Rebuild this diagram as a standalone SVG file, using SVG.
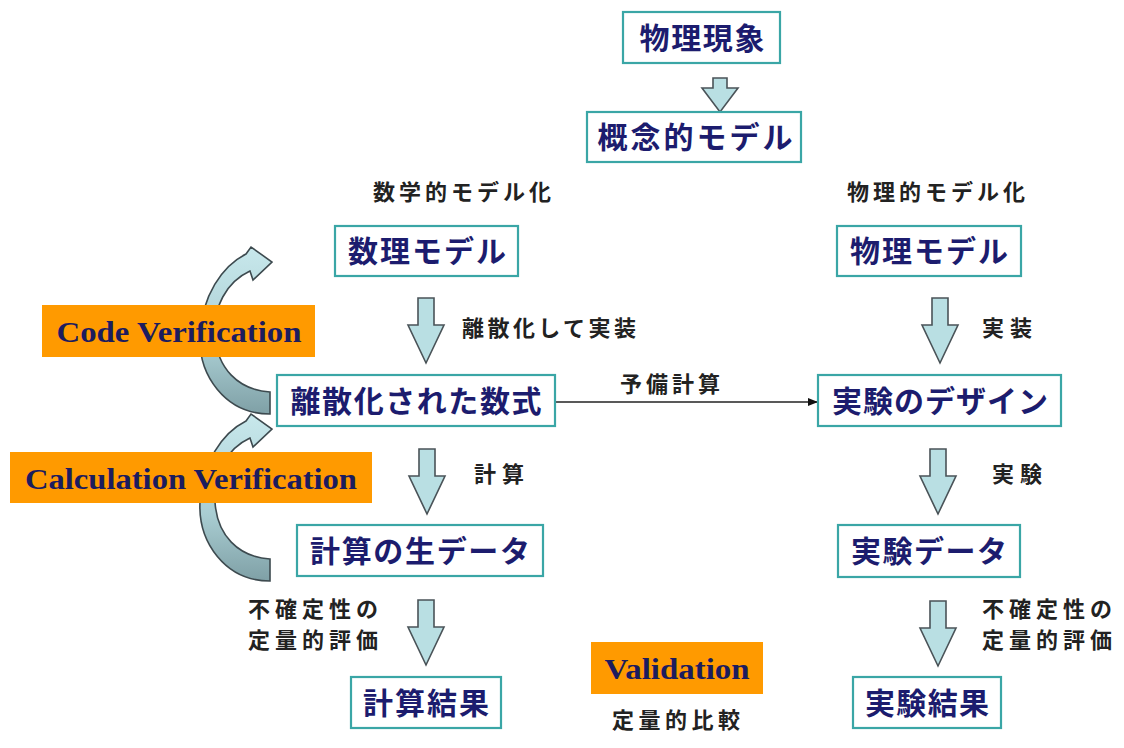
<svg xmlns="http://www.w3.org/2000/svg" width="1124" height="748" viewBox="0 0 1124 748">
<style>
.box{fill:#fff;stroke:#3aa6a6;stroke-width:2.2}
.bt{font-family:"Noto Sans CJK JP",sans-serif;font-weight:bold;font-size:30px;fill:#1c1c6e;text-anchor:middle}
.lb{font-family:"Noto Sans CJK JP",sans-serif;font-weight:bold;font-size:22px;fill:#222;text-anchor:middle}
.or{fill:#ff9a00}
.ot{font-family:"Liberation Serif",serif;font-weight:bold;font-size:30px;fill:#1c1c5e;text-anchor:middle}
.ba{fill:#b9dfe3;stroke:#4a5358;stroke-width:1.6;stroke-linejoin:miter}
.ca{fill:url(#cg);stroke:#3d4a4f;stroke-width:1.6}
</style>
<defs>
<path id="darr" d="M -8 0 H 8 V 27 H 18 L 0 65 L -18 27 H -8 Z"/>
<linearGradient id="cg" x1="0" y1="0" x2="0" y2="1">
<stop offset="0" stop-color="#c8e8ec"/>
<stop offset="0.6" stop-color="#a9cdd2"/>
<stop offset="1" stop-color="#7fa0a6"/>
</linearGradient>
<marker id="ah" markerWidth="10" markerHeight="8" refX="9" refY="4" orient="auto" markerUnits="userSpaceOnUse">
<path d="M0 0 L10 4 L0 8 Z" fill="#111"/>
</marker>
<path id="carr" d="M 270 392 L 270 414 C 225 414 198 375 200 335 C 202 296 222 266 246 254 L 251 247 L 272 262 L 253 280 L 250 271 C 226 282 213 308 215 335 C 217 368 238 390 270 392 Z"/>
</defs>
<rect width="1124" height="748" fill="#fff"/>

<g id="connectors">
<use href="#carr" class="ca"/>
<use href="#carr" class="ca" transform="translate(0,167)"/>
<path class="ba" d="M 713 78 H 727 V 88 H 738 L 720 112 L 702 88 H 713 Z"/>
<use href="#darr" class="ba" transform="translate(426,298)"/>
<use href="#darr" class="ba" transform="translate(940,298)"/>
<use href="#darr" class="ba" transform="translate(427,449)"/>
<use href="#darr" class="ba" transform="translate(938,449)"/>
<use href="#darr" class="ba" transform="translate(426,600)"/>
<use href="#darr" class="ba" transform="translate(938,601)"/>
<line x1="555" y1="402" x2="817" y2="402" stroke="#222" stroke-width="1.5" marker-end="url(#ah)"/>
</g>

<g id="label-math-model"><text class="lb" x="462" y="200" textLength="178" lengthAdjust="spacing">数学的モデル化</text></g>
<g id="label-phys-model"><text class="lb" x="936" y="200" textLength="178" lengthAdjust="spacing">物理的モデル化</text></g>
<g id="label-discretize"><text class="lb" x="549" y="336" textLength="174" lengthAdjust="spacing">離散化して実装</text></g>
<g id="label-impl"><text class="lb" x="1007" y="336" textLength="50" lengthAdjust="spacing">実装</text></g>
<g id="label-prelim"><text class="lb" x="670" y="392" textLength="100" lengthAdjust="spacing">予備計算</text></g>
<g id="label-calc"><text class="lb" x="499" y="482" textLength="50" lengthAdjust="spacing">計算</text></g>
<g id="label-exp"><text class="lb" x="1017" y="482" textLength="50" lengthAdjust="spacing">実験</text></g>
<g id="label-uq-left">
<text class="lb" x="313" y="617" textLength="130" lengthAdjust="spacing">不確定性の</text>
<text class="lb" x="313" y="648" textLength="130" lengthAdjust="spacing">定量的評価</text>
</g>
<g id="label-uq-right">
<text class="lb" x="1047" y="617" textLength="130" lengthAdjust="spacing">不確定性の</text>
<text class="lb" x="1047" y="648" textLength="130" lengthAdjust="spacing">定量的評価</text>
</g>
<g id="label-compare"><text class="lb" x="676" y="728" textLength="128" lengthAdjust="spacing">定量的比較</text></g>

<g id="code-verification"><rect class="or" x="42" y="305" width="273" height="52"/><text class="ot" x="179" y="342" textLength="245" lengthAdjust="spacingAndGlyphs">Code Verification</text></g>
<g id="calc-verification"><rect class="or" x="10" y="452" width="362" height="51"/><text class="ot" x="191" y="489" textLength="332" lengthAdjust="spacingAndGlyphs">Calculation Verification</text></g>
<g id="validation"><rect class="or" x="591" y="642" width="172" height="52"/><text class="ot" x="677" y="679" textLength="145" lengthAdjust="spacingAndGlyphs">Validation</text></g>

<g id="n-phenomenon"><rect class="box" x="623" y="12" width="157" height="51"/><text class="bt" x="702" y="49" textLength="125" lengthAdjust="spacing">物理現象</text></g>
<g id="n-concept"><rect class="box" x="587" y="112" width="214" height="50"/><text class="bt" x="695" y="148" textLength="195" lengthAdjust="spacing">概念的モデル</text></g>
<g id="n-math"><rect class="box" x="335" y="226" width="183" height="50"/><text class="bt" x="427" y="262" textLength="158" lengthAdjust="spacing">数理モデル</text></g>
<g id="n-phys"><rect class="box" x="837" y="226" width="184" height="50"/><text class="bt" x="929" y="262" textLength="158" lengthAdjust="spacing">物理モデル</text></g>
<g id="n-discrete"><rect class="box" x="277" y="375" width="278" height="51"/><text class="bt" x="416" y="412" textLength="251" lengthAdjust="spacing">離散化された数式</text></g>
<g id="n-design"><rect class="box" x="818" y="375" width="243" height="51"/><text class="bt" x="940" y="412" textLength="216" lengthAdjust="spacing">実験のデザイン</text></g>
<g id="n-rawdata"><rect class="box" x="297" y="525" width="246" height="51"/><text class="bt" x="420" y="562" textLength="220" lengthAdjust="spacing">計算の生データ</text></g>
<g id="n-expdata"><rect class="box" x="838" y="525" width="182" height="52"/><text class="bt" x="929" y="562" textLength="156" lengthAdjust="spacing">実験データ</text></g>
<g id="n-calcresult"><rect class="box" x="351" y="677" width="150" height="51"/><text class="bt" x="426" y="714" textLength="126" lengthAdjust="spacing">計算結果</text></g>
<g id="n-expresult"><rect class="box" x="853" y="677" width="148" height="51"/><text class="bt" x="927" y="714" textLength="124" lengthAdjust="spacing">実験結果</text></g>
</svg>
